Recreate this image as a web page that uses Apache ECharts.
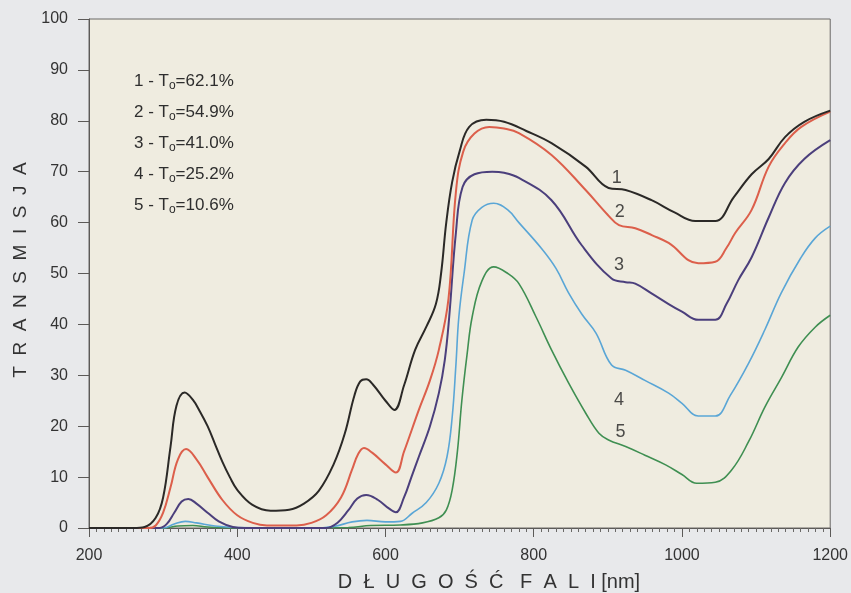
<!DOCTYPE html>
<html>
<head>
<meta charset="utf-8">
<title>Transmisja</title>
<script src="https://cdn.jsdelivr.net/npm/echarts@6/dist/echarts.min.js"></script>
<style>
  html, body { margin: 0; padding: 0; background: #e8e9eb; }
  #chart { width: 851px; height: 593px; }
</style>
</head>
<body>
<div id="chart"></div>
<script>
// Transmission spectra (wavelength in nm, transmission in %)
const wl1 = [200, 260, 275, 290, 300, 310, 318, 329, 340, 350, 360, 370, 380, 390, 400, 420, 445, 470, 490, 510, 530, 545, 558, 566, 574, 583, 600, 612, 625, 640, 655, 668, 675, 682, 690, 700, 713, 736, 760, 790, 824, 870, 901, 924, 959, 990, 1018, 1045, 1070, 1094, 1117, 1139, 1165, 1200];
const tr1 = [0, 0, 0.2, 2.0, 6, 16, 24, 26.6, 25.2, 22.8, 20, 16.5, 13, 10, 7.5, 4.6, 3.4, 3.6, 4.8, 7.3, 12.5, 18.5, 26, 28.8, 29.2, 28.2, 25, 23.2, 28, 35, 39.5, 44, 50, 60, 68, 74, 78.8, 80.2, 79.8, 78, 75.6, 71, 66.8, 66.4, 64.4, 62, 60.3, 60.3, 65, 69.5, 72.5, 76.8, 79.8, 82];

const wl2 = [200, 280, 290, 300, 310, 320, 331, 345, 360, 380, 400, 421, 440, 480, 500, 520, 540, 555, 563, 571, 582, 600, 614, 625, 645, 660, 672, 685, 695, 705, 720, 740, 760, 780, 824, 870, 900, 915, 937, 960, 982, 1022, 1045, 1060, 1072, 1094, 1117, 1139, 1161, 1200];
const tr2 = [0, 0, 0.5, 3, 8, 13.5, 15.5, 13.5, 10, 5.5, 2.5, 1.0, 0.5, 0.5, 1.0, 2.5, 6, 11.5, 14.5, 15.7, 14.8, 12.5, 10.9, 15, 23.2, 29, 35, 45, 66, 74, 77.5, 78.8, 78.5, 77.6, 73.3, 66.4, 61.5, 59.5, 58.9, 57.5, 56, 52, 52.3, 55, 58, 62.5, 71, 75.6, 78.8, 81.8];

const wl3 = [200, 295, 305, 315, 325, 334, 345, 360, 375, 394, 410, 520, 535, 550, 562, 574, 590, 605, 614, 625, 635, 645, 660, 672, 680, 686, 695, 704, 720, 744, 760, 780, 824, 865, 905, 924, 937, 960, 982, 1000, 1022, 1045, 1060, 1076, 1094, 1117, 1139, 1165, 1200];
const tr3 = [0, 0, 0.8, 3, 5.2, 5.7, 4.8, 3, 1.3, 0.2, 0, 0, 1, 3.5, 5.8, 6.5, 5.5, 3.8, 3.1, 6, 10, 14, 20, 26.5, 33, 41.5, 58, 67, 69.5, 70, 69.8, 68.8, 64.4, 55.5, 49, 48.3, 48, 46, 44, 42.5, 40.9, 40.9, 44, 48.7, 53.2, 61, 67.8, 72.5, 76.2];

const wl4 = [200, 300, 315, 330, 345, 370, 400, 500, 530, 555, 575, 600, 620, 636, 655, 672, 683, 690, 695, 699, 706, 717, 730, 746, 765, 780, 810, 830, 847, 865, 884, 905, 924, 950, 982, 1000, 1022, 1045, 1065, 1090, 1112, 1134, 1160, 1180, 1200];
const tr4 = [0, 0, 0.8, 1.3, 1.0, 0.4, 0.1, 0, 0.3, 1.2, 1.5, 1.2, 1.3, 2.9, 5, 8.8, 14, 21.8, 32, 41.5, 50, 60.5, 63, 63.8, 62.5, 60, 55, 51, 46.2, 42, 38.3, 32, 31, 29, 26.5, 24.5, 22, 22, 26, 32.4, 39, 46.2, 53, 57, 59.3];

const wl5 = [200, 300, 320, 340, 360, 400, 550, 580, 620, 650, 672, 682, 690, 697, 703, 710, 717, 730, 746, 765, 780, 803, 824, 847, 870, 888, 901, 924, 950, 978, 1000, 1020, 1045, 1067, 1090, 1112, 1134, 1157, 1180, 1200];
const tr5 = [0, 0, 0.4, 0.5, 0.2, 0, 0.1, 0.5, 0.6, 1, 2, 3.5, 7.5, 15, 25, 34, 41.5, 48.5, 51.3, 50, 48, 41.5, 35, 28.5, 22.6, 18.6, 17.3, 16, 14.3, 12.4, 10.5, 8.8, 9, 11.4, 17, 23.8, 29.5, 35.6, 39.5, 41.8];

// Curve numbers placed beside the lines
const curveNames = ['1', '2', '3', '4', '5'];
const curveLabelWl = [912, 916, 915, 915, 917];
const curveLabelTr = [68.8, 62.1, 51.7, 25.1, 18.9];

// Legend block: curve number and initial transmission T0
const legendT0 = ['62.1%', '54.9%', '41.0%', '25.2%', '10.6%'];

const xTicks = [200, 400, 600, 800, 1000, 1200];
const yTicks = [0, 10, 20, 30, 40, 50, 60, 70, 80, 90, 100];

const colors = ['#2b2927', '#dc5f4b', '#4b3f7c', '#5aa6d6', '#3f8f52'];
const widths = [2, 2, 2, 1.6, 1.6];

const FONT = '"Liberation Sans", Arial, sans-serif';

function pairs(xs, ys) { return xs.map((x, i) => [x, ys[i]]); }
const wls = [wl1, wl2, wl3, wl4, wl5];
const trs = [tr1, tr2, tr3, tr4, tr5];

const chart = echarts.init(document.getElementById('chart'), null, { renderer: 'canvas' });

const series = wls.map((wl, i) => ({
  type: 'line',
  data: pairs(wl, trs[i]),
  showSymbol: false,
  smooth: 0.4,
  lineStyle: { color: colors[i], width: widths[i] },
  silent: true,
  z: 5 - i
}));

series.push({
  type: 'scatter',
  symbolSize: 0,
  silent: true,
  data: curveNames.map((n, i) => ({ value: [curveLabelWl[i], curveLabelTr[i]], name: n })),
  label: {
    show: true,
    position: 'inside',
    formatter: p => p.name,
    fontFamily: FONT,
    fontSize: 18,
    color: '#222'
  }
});

const legendGraphics = legendT0.map((v, i) => ({
  type: 'text',
  left: 134,
  top: 73 + i * 31,
  style: {
    text: (i + 1) + ' - T{s|o}=' + v,
    fontFamily: FONT,
    fontSize: 17,
    fill: '#2e2e2e',
    rich: {
      s: { fontFamily: FONT, fontSize: 12, fill: '#2e2e2e', padding: [9, 0, 0, 0] }
    }
  }
}));

chart.setOption({
  backgroundColor: '#e8e9eb',
  animation: false,
  grid: {
    left: 89, right: 19, top: 19, bottom: 65,
    show: true,
    backgroundColor: '#efece0',
    borderColor: '#6a6866',
    borderWidth: 1
  },
  xAxis: {
    type: 'value',
    min: xTicks[0],
    max: xTicks[xTicks.length - 1],
    interval: 200,
    axisLine: { show: true, lineStyle: { color: '#5c5a58', width: 1 } },
    axisTick: { show: true, length: 9, lineStyle: { color: '#5c5a58' } },
    minorTick: { show: true, splitNumber: 20, length: 4, lineStyle: { color: '#6a6866' } },
    splitLine: { show: false },
    axisLabel: { fontFamily: FONT, fontSize: 16, color: '#333', margin: 20, formatter: v => String(v) }
  },
  yAxis: {
    type: 'value',
    min: yTicks[0],
    max: yTicks[yTicks.length - 1],
    interval: 10,
    axisLine: { show: true, lineStyle: { color: '#5c5a58', width: 1 } },
    axisTick: { show: true, length: 11, lineStyle: { color: '#5c5a58' } },
    splitLine: { show: false },
    axisLabel: { fontFamily: FONT, fontSize: 16, color: '#333', margin: 21, formatter: v => String(v) }
  },
  graphic: [
    {
      type: 'text',
      x: 21, y: 270,
      rotation: Math.PI / 2,
      style: {
        text: 'T  R  A  N  S  M  I  S  J  A',
        fontFamily: FONT, fontSize: 19, fill: '#333',
        textAlign: 'center', textVerticalAlign: 'middle'
      }
    },
    {
      type: 'text',
      x: 489, y: 582,
      style: {
        text: 'D  Ł  U  G  O  Ś  Ć   F  A  L  I [nm]',
        fontFamily: FONT, fontSize: 20, fill: '#333',
        textAlign: 'center', textVerticalAlign: 'middle'
      }
    }
  ].concat(legendGraphics),
  series: series
});
</script>
</body>
</html>
